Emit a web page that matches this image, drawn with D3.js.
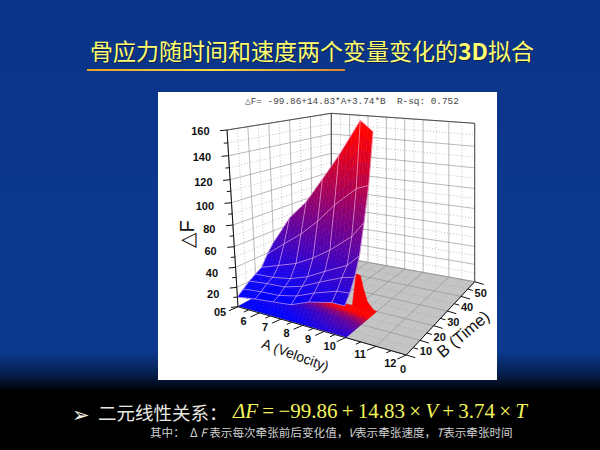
<!DOCTYPE html>
<html><head><meta charset="utf-8">
<style>html,body{margin:0;padding:0;background:#000}svg{display:block}</style>
<script src="https://cdnjs.cloudflare.com/ajax/libs/d3/7.8.5/d3.min.js"></script>
</head><body><svg id="c" width="600" height="450"></svg>
<script>
const titleParts = ["骨应力随时间和速度两个变量变化的", "3D", "拟合"];
const fitText = "△F= -99.86+14.83*A+3.74*B  R-sq: 0.752";
const velocityA = [5, 5.83, 6.67, 7.5, 8.33, 9.4, 10];
const timeB = [0, 3.33, 6.67, 10, 13.33, 16.67, 20];
const deltaF0 = [10, 13, 15, 17, 24, 29, 29];
const deltaF1 = [15, 17, 18, 22, 29, 36, 37];
const deltaF2 = [20, 22, 23, 28, 36, 45, 48];
const deltaF3 = [24, 25, 28, 34, 43, 53, 64];
const deltaF4 = [28, 34, 40, 49, 60, 76, 90];
const deltaF5 = [39, 53, 66, 81, 98, 115, 119];
const deltaF6 = [48, 76, 94, 117, 139, 168, 160];
const deltaF = [deltaF0, deltaF1, deltaF2, deltaF3, deltaF4, deltaF5, deltaF6];
const finA = [10, 10, 10, 10, 10, 10, 8.8];
const finB = [7.7, 10.3, 12, 14.3, 18.7, 20, 20];
const finF = [50, 46, 32, 17, 2, 0, 0];
const aTicks = [6, 7, 8, 9, 10, 11, 12];
const bTicks = [0, 10, 20, 30, 40, 50];
const zTicks = [20, 40, 60, 80, 100, 120, 140, 160];

const svg = d3.select("#c");
const defs = svg.append("defs");
const bg = defs.append("linearGradient").attr("id","bg").attr("x1",0).attr("x2",0).attr("y1",0).attr("y2",1);
[[0,"#0a3488"],[0.78,"#0c3a90"],[0.83,"#06204f"],[0.87,"#000"],[1,"#000"]].forEach(s=>bg.append("stop").attr("offset",s[0]).attr("stop-color",s[1]));
const ul = defs.append("linearGradient").attr("id","ul");
[[0,"#e8a028"],[0.5,"#f4dc48"],[1,"#d88428"]].forEach(s=>ul.append("stop").attr("offset",s[0]).attr("stop-color",s[1]));
svg.append("rect").attr("width",600).attr("height",450).attr("fill","url(#bg)");

// title
function titleAt(x,y,col){
  const t=svg.append("text").attr("x",x).attr("y",y).attr("fill",col).attr("font-family","'Noto Sans CJK SC'").attr("font-size",23);
  titleParts.forEach((s,i)=>t.append("tspan").attr("font-weight",i===1?"bold":"normal").text(s));
}
titleAt(91,60.5,"#10204a");
titleAt(90,60,"#ffff70");
svg.append("rect").attr("x",87).attr("y",69).attr("width",258).attr("height",2).attr("fill","url(#ul)");

// white panel
svg.append("rect").attr("x",158).attr("y",92).attr("width",339).attr("height",288).attr("fill","#fff");

// projection
const uS = d3.scaleLinear().domain([5,10,12]).range([0,0.64,1]);
const vS = d3.scaleLinear().domain([0,50]).range([0,1]);
const wS = d3.scaleLinear().domain([0,20,40,60,80,100,120,140,160])
  .range([0,58,118,180,245,312,381,453,530].map(d=>d/530));
const F00=[238,306.7],F10=[406.3,355],F11=[474.7,281.7],F01=[331.3,255.7];
const T00=[227,130],T10=[403,145],T11=[474.7,123.3],T01=[331.3,113.3];
function bil(a,b,c,d,u,v,i){return a[i]*(1-u)*(1-v)+b[i]*u*(1-v)+c[i]*u*v+d[i]*(1-u)*v;}
function P(A,B,z){
  const u=uS(A),v=vS(B),w=wS(z);
  return [0,1].map(i=>{
    const f=bil(F00,F10,F11,F01,u,v,i),t=bil(T00,T10,T11,T01,u,v,i);
    return f+(t-f)*w;});
}
const poly=pts=>"M"+pts.map(p=>p.join(",")).join("L")+"Z";
const line=d3.line();
const g=svg.append("g");

// walls and floor
g.append("path").attr("d",poly([P(5,0,160),P(5,50,160),P(5,50,0),P(5,0,0)])).attr("fill","#fff");
g.append("path").attr("d",poly([P(5,50,160),P(12,50,160),P(12,50,0),P(5,50,0)])).attr("fill","#fff");
g.append("path").attr("d",poly([P(5,0,0),P(12,0,0),P(12,50,0),P(5,50,0)])).attr("fill","#c4c4c4");

function gridLine(a,b,col,dash,w){
  g.append("path").attr("d",line([a,b])).attr("stroke",col).attr("stroke-width",w||0.6).attr("fill","none").attr("stroke-dasharray",dash||null);
}
const aAll=d3.range(5,12.5,0.5), bAll=d3.range(0,55,5), zAll=d3.range(0,170,10);
zAll.forEach(z=>{const maj=z%20===0;
  gridLine(P(5,0,z),P(5,50,z),maj?"#8a8a8a":"#999",maj?null:"1 2");
  gridLine(P(5,50,z),P(12,50,z),maj?"#8a8a8a":"#999",maj?null:"1 2");
});
aAll.forEach(a=>{const maj=a%1===0;
  gridLine(P(a,50,0),P(a,50,160),maj?"#8a8a8a":"#999",maj?null:"1 2");
  gridLine(P(a,0,0),P(a,50,0),maj?"#8c8c8c":"#9a9a9a",maj?null:"1 2");
});
bAll.forEach(b=>{const maj=b%10===0;
  gridLine(P(5,b,0),P(5,b,160),maj?"#8a8a8a":"#999",maj?null:"1 2");
  gridLine(P(5,b,0),P(12,b,0),maj?"#8c8c8c":"#9a9a9a",maj?null:"1 2");
});
// wall outlines
[[P(5,0,160),P(5,50,160)],[P(5,50,160),P(12,50,160)],[P(5,50,160),P(5,50,0)],[P(12,50,160),P(12,50,0)]]
  .forEach(s=>gridLine(s[0],s[1],"#444",null,0.9));

// surfaces
const colS=d3.scaleLinear().domain([16,158]).range(["#0000ff","#ff0000"]).clamp(true);
const floorS=d3.scaleLinear().domain([18,105]).range(["#0000ff","#ff0000"]).clamp(true);
const N=5;
function drawPatches(fz,cs){
  const pg=g.append("g");
  for(let r=timeB.length-2;r>=0;r--){
    for(let c=0;c<velocityA.length-1;c++){
      for(let i=N-1;i>=0;i--){for(let j=0;j<N;j++){
        const ev=(s,t)=>{
          const A=velocityA[c]+(velocityA[c+1]-velocityA[c])*s;
          const B=timeB[r]+(timeB[r+1]-timeB[r])*t;
          const Z=deltaF[r][c]*(1-s)*(1-t)+deltaF[r][c+1]*s*(1-t)+deltaF[r+1][c+1]*s*t+deltaF[r+1][c]*(1-s)*t;
          return {A,B,Z};};
        const pts=[[j/N,i/N],[(j+1)/N,i/N],[(j+1)/N,(i+1)/N],[j/N,(i+1)/N]].map(q=>ev(q[0],q[1]));
        const zm=d3.mean(pts,d=>d.Z);
        const col=cs(zm);
        pg.append("path").attr("d",poly(pts.map(d=>P(d.A,d.B,fz(d.Z))))).attr("fill",col).attr("stroke",col).attr("stroke-width",0.5);
      }}
    }
  }
}
// floor shadow
drawPatches(()=>0,floorS);
gridLine(P(5,0,0),P(10,0,0),"#fff",null,1);
// fin under the right edge
g.append("path").attr("d",poly(finB.map((b,i)=>P(finA[i],b,finF[i])))).attr("fill","#ff0000").attr("stroke","#ff0000").attr("stroke-width",0.5);
// main surface
drawPatches(z=>z,colS);
// mesh
const meshCol="rgba(255,205,240,0.75)";
const lineG=g.append("g").attr("fill","none").attr("stroke",meshCol).attr("stroke-width",0.75);
deltaF.forEach((row,r)=>lineG.append("path").attr("d",line(row.map((z,c)=>P(velocityA[c],timeB[r],z)))));
velocityA.forEach((a,c)=>lineG.append("path").attr("d",line(deltaF.map((row,r)=>P(a,timeB[r],row[c])))));

// axes
const ax=g.append("g").attr("stroke","#111").attr("fill","none").attr("stroke-width",1);
ax.append("path").attr("d",line([P(5,0,0),P(5,0,160)]));
ax.append("path").attr("d",line([P(5,0,0),P(12,0,0)]));
ax.append("path").attr("d",line([P(12,0,0),P(12,50,0)]));
const tickFont="'Liberation Sans',Arial,sans-serif";
function lab(x,y,t,fs,w,anchor){return g.append("text").attr("x",x).attr("y",y).attr("font-family",tickFont).attr("font-size",fs).attr("font-weight",w).attr("fill","#111").attr("text-anchor",anchor||"middle").attr("dominant-baseline","middle").text(t);}
d3.range(0,170,10).forEach(z=>{const p=P(5,0,z),maj=z%20===0,l=maj?7:4;
  ax.append("path").attr("d",line([p,[p[0]-l,p[1]+l*0.1]]));});
zTicks.forEach(z=>{const p=P(5,0,z);lab(p[0]-3.5,p[1]+(160-z)/160*6+2,z,11,"bold","end").attr("dx",-14);});
lab(217,313,"0",11,"bold");lab(223,313,"5",11,"bold");
d3.range(5,12.5,0.5).forEach(a=>{const p=P(a,0,0),l=a%1===0?9:5;
  ax.append("path").attr("d",line([p,[p[0]-l,p[1]+l*0.45]]));});
aTicks.forEach(a=>{const p=P(a,0,0);lab(p[0]-16,p[1]+9,a,11,"bold");});
d3.range(0,55,5).forEach(b=>{const p=P(12,b,0),l=b%10===0?9:5;
  ax.append("path").attr("d",line([p,[p[0]+l,p[1]+l*0.3]]));});
bTicks.forEach(b=>{const p=P(12,b,0);
  if(b===0) lab(403,370,b,11,"bold"); else lab(p[0]+6,p[1]+12,b,11,"bold");});

// axis titles
g.append("text").attr("transform","translate(194,234) rotate(-90)").attr("text-anchor","middle").attr("font-family",tickFont).attr("font-size",20).attr("fill","#111").text("△F");
g.append("text").attr("transform","translate(295,356) rotate(20)").attr("text-anchor","middle").attr("dominant-baseline","middle").attr("font-family",tickFont).attr("font-size",14).attr("fill","#111").text("A (Velocity)");
g.append("text").attr("transform","translate(464,335) rotate(-40)").attr("text-anchor","middle").attr("dominant-baseline","middle").attr("font-family",tickFont).attr("font-size",16.5).attr("fill","#111").text("B (Time)");
g.append("text").attr("x",245).attr("y",104).attr("font-family","'Liberation Mono',monospace").attr("font-size",9.4).attr("fill","#444").style("white-space","pre").text(fitText);

// bottom text
svg.append("text").attr("x",72).attr("y",422).attr("fill","#f4f4e8").attr("font-family","'DejaVu Sans'").attr("font-size",21).text("➢");
svg.append("text").attr("x",98).attr("y",420).attr("fill","#e8e8e0").attr("font-family","'Noto Sans CJK SC'").attr("font-size",18.5).text("二元线性关系：");
const fm=svg.append("text").attr("x",233).attr("y",418).attr("fill","#f4f45a").attr("font-family","'Liberation Serif',serif").attr("font-size",21);
[["ΔF",1],["\u2009=\u2009−99.86\u2009+\u200914.83\u2009×\u2009",0],["V",1],["\u2009+\u20093.74\u2009×\u2009",0],["T",1]].forEach(s=>fm.append("tspan").attr("font-style",s[1]?"italic":"normal").style("white-space","pre").text(s[0]));
const sub=svg.append("text").attr("x",150).attr("y",437).attr("fill","#d0d0d0").attr("font-family","'Noto Sans CJK SC'").attr("font-size",11.6);
[["其中：",0],["  Δ ",0],["F",1],[" 表示每次牵张前后变化值，",0],["V",1],["表示牵张速度，",0],["T",1],["表示牵张时间",0]].forEach(s=>sub.append("tspan").attr("font-style",s[1]?"italic":"normal").style("white-space","pre").text(s[0]));
</script></body></html>
